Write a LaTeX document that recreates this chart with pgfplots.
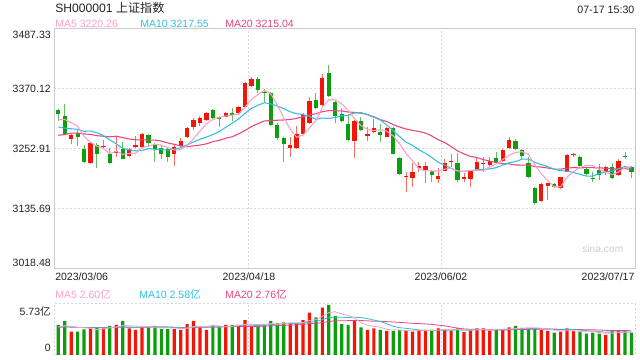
\documentclass[border=0pt]{standalone}
\usepackage{fontspec}
\setmainfont{Liberation Sans}
\newfontfamily\cjk{Noto Sans CJK SC}
\usepackage{pgfplots}
\usepackage{pgfplotstable}
\pgfplotsset{compat=1.18}
\definecolor{upR}{RGB}{242,22,8}
\definecolor{dnG}{RGB}{12,158,12}
\definecolor{upW}{RGB}{246,110,100}
\definecolor{dnW}{RGB}{100,190,100}
\definecolor{ma5}{RGB}{255,158,196}
\definecolor{ma10}{RGB}{48,190,228}
\definecolor{ma20}{RGB}{232,68,126}
\definecolor{gridc}{RGB}{214,214,214}
\definecolor{framec}{RGB}{204,204,204}
\definecolor{txt}{RGB}{34,34,34}
\definecolor{wm}{RGB}{205,205,205}

\pgfplotstableread{
i O H L C V
2 3271.8 3282.2 3262.7 3280.3 2.62
5 3226.2 3266.6 3224.2 3264.0 3.00
7 3256.8 3270.5 3254.2 3258.8 3.00
9 3244.4 3277.0 3237.9 3249.6 3.37
11 3239.9 3254.2 3236.6 3252.3 3.00
12 3257.5 3278.3 3254.2 3260.7 2.81
13 3257.5 3284.8 3256.2 3282.2 3.11
18 3242.5 3260.7 3219.7 3256.2 2.92
19 3258.8 3273.7 3256.2 3268.5 2.81
20 3275.7 3296.5 3273.7 3293.3 3.48
21 3296.5 3312.8 3290.0 3309.5 3.82
22 3303.0 3318.0 3298.0 3313.0 3.11
23 3309.5 3325.8 3307.6 3323.9 2.81
26 3316.1 3325.8 3314.8 3323.9 3.37
28 3323.9 3337.6 3319.3 3335.6 3.37
29 3335.6 3384.4 3334.3 3381.2 3.93
30 3376.6 3394.2 3374.7 3389.7 3.18
36 3254.2 3275.7 3237.9 3260.7 3.56
37 3254.2 3297.8 3252.9 3281.6 3.48
38 3281.6 3322.6 3280.3 3319.3 3.93
39 3304.3 3353.8 3301.7 3347.3 4.76
41 3338.9 3399.4 3336.9 3390.9 5.32
46 3269.2 3309.6 3234.7 3307.6 3.86
48 3279.0 3296.5 3268.5 3281.6 2.81
49 3286.8 3311.5 3283.5 3294.6 3.00
51 3277.0 3296.5 3275.7 3293.3 2.70
54 3198.2 3207.3 3168.2 3200.2 2.70
55 3196.9 3224.9 3179.3 3207.3 2.62
56 3217.7 3228.2 3207.3 3219.7 2.81
57 3211.9 3228.2 3185.8 3220.4 2.81
59 3194.3 3215.1 3185.8 3200.2 3.00
60 3210.6 3232.7 3209.0 3224.9 2.88
61 3228.8 3242.5 3218.4 3230.1 2.70
63 3196.3 3205.4 3187.8 3197.6 2.58
64 3193.7 3211.0 3179.3 3209.9 2.81
65 3211.9 3236.6 3210.0 3227.5 3.00
66 3224.3 3236.6 3208.6 3225.6 3.00
67 3221.7 3236.6 3220.0 3230.1 2.73
69 3230.1 3253.0 3228.0 3251.0 2.88
70 3254.2 3275.7 3253.0 3270.5 3.11
75 3152.0 3186.0 3150.0 3184.5 2.81
76 3181.3 3187.0 3153.3 3185.8 2.70
78 3177.4 3199.0 3175.0 3197.6 2.62
79 3208.6 3243.0 3207.0 3241.2 3.00
80 3241.8 3245.7 3238.0 3243.2 2.70
85 3210.6 3219.0 3202.1 3217.1 2.25
87 3202.1 3232.7 3200.0 3230.1 2.70
}\up

\pgfplotstableread{
i O H L C V
0 3329.1 3331.0 3307.6 3320.6 3.37
1 3317.4 3340.8 3280.3 3282.2 3.82
3 3284.8 3290.0 3258.8 3275.7 2.62
4 3252.9 3260.7 3226.2 3228.2 2.88
6 3260.7 3264.0 3215.1 3243.1 3.11
8 3242.5 3254.2 3223.6 3226.2 3.26
10 3252.9 3267.2 3232.7 3234.0 3.82
14 3279.6 3282.2 3257.5 3264.0 3.11
15 3260.7 3264.0 3228.2 3252.3 3.26
16 3254.2 3260.7 3232.7 3243.1 2.92
17 3252.3 3256.2 3228.2 3237.9 2.92
24 3329.1 3330.4 3311.5 3314.1 3.37
25 3314.8 3317.4 3296.5 3312.8 3.18
27 3322.6 3332.3 3308.2 3320.6 3.37
31 3389.7 3392.9 3363.0 3368.2 3.26
32 3364.9 3369.5 3343.4 3363.0 3.48
33 3361.7 3364.9 3297.8 3299.8 3.82
34 3299.8 3303.0 3270.5 3275.0 3.56
35 3275.0 3277.0 3228.2 3262.7 3.67
40 3348.6 3361.7 3330.4 3332.3 4.23
42 3400.7 3417.0 3355.1 3356.4 5.62
43 3345.4 3348.6 3303.0 3318.0 4.38
44 3320.6 3332.4 3306.3 3307.6 3.48
45 3301.1 3320.6 3269.2 3270.5 3.37
47 3307.6 3316.1 3288.1 3289.4 3.11
50 3286.8 3301.1 3267.2 3280.3 2.81
52 3293.3 3296.5 3242.5 3243.1 2.70
53 3236.0 3237.3 3202.1 3203.4 2.81
58 3210.6 3212.0 3189.1 3202.1 2.81
62 3224.9 3245.7 3187.8 3192.4 3.00
68 3234.7 3247.7 3224.0 3226.2 2.88
71 3269.2 3272.0 3250.0 3252.3 3.26
72 3251.0 3253.0 3232.7 3239.2 3.00
73 3226.2 3237.9 3196.0 3197.6 3.00
74 3176.1 3178.0 3143.5 3148.1 3.00
77 3183.9 3186.0 3177.0 3179.3 2.51
81 3236.6 3239.0 3217.0 3219.7 2.62
82 3213.2 3215.0 3202.0 3204.1 2.40
83 3196.3 3208.6 3189.1 3195.0 2.51
84 3211.9 3223.6 3192.4 3202.1 2.40
86 3218.4 3224.9 3194.0 3195.6 2.70
88 3239.9 3247.0 3232.7 3238.6 2.70
89 3217.1 3219.0 3195.6 3208.6 2.51
}\dn

\pgfplotstableread{
i m5 m10 m20 v5 v10 v20
0 3310.0 3296.0 3279.6 3.15 3.13 3.11
1 3310.5 3293.6 3281.3 3.30 3.20 3.15
2 3304.4 3292.5 3283.8 3.20 3.15 3.13
3 3297.4 3291.3 3284.0 3.11 3.10 3.10
4 3277.4 3287.4 3282.4 3.06 3.08 3.09
5 3266.1 3288.0 3281.4 2.99 3.07 3.09
6 3258.3 3284.4 3278.9 2.85 3.07 3.09
7 3254.0 3279.2 3277.8 2.92 3.06 3.08
8 3244.1 3270.8 3276.7 3.05 3.08 3.09
9 3248.3 3262.9 3277.9 3.15 3.11 3.10
10 3242.3 3254.2 3275.1 3.31 3.15 3.14
11 3244.2 3251.2 3272.4 3.29 3.07 3.13
12 3244.6 3249.3 3270.9 3.25 3.09 3.12
13 3255.8 3249.9 3270.6 3.22 3.14 3.12
14 3258.6 3253.5 3270.5 3.17 3.16 3.12
15 3262.3 3252.3 3270.2 3.06 3.19 3.13
16 3260.5 3252.3 3268.3 3.04 3.17 3.12
17 3255.9 3250.2 3264.7 3.06 3.16 3.11
18 3250.7 3253.2 3262.0 3.03 3.12 3.10
19 3251.6 3255.1 3259.0 2.97 3.07 3.09
20 3259.8 3261.1 3257.6 3.01 3.03 3.09
21 3273.1 3266.8 3259.0 3.19 3.12 3.09
22 3288.1 3272.0 3260.6 3.23 3.15 3.12
23 3301.6 3276.2 3263.0 3.21 3.12 3.13
24 3310.8 3281.2 3267.3 3.32 3.14 3.15
25 3314.7 3287.2 3269.8 3.26 3.13 3.16
26 3317.5 3295.3 3273.8 3.17 3.18 3.17
27 3319.1 3303.6 3276.9 3.22 3.22 3.19
28 3321.4 3311.5 3282.4 3.33 3.27 3.20
29 3334.8 3322.8 3289.0 3.44 3.38 3.22
30 3350.2 3332.4 3296.7 3.44 3.35 3.19
31 3359.1 3338.3 3302.5 3.42 3.30 3.21
32 3367.5 3343.3 3307.7 3.44 3.33 3.24
33 3360.4 3340.9 3308.5 3.53 3.43 3.27
34 3339.1 3337.0 3309.1 3.46 3.45 3.30
35 3313.7 3332.0 3309.6 3.56 3.50 3.32
36 3292.2 3325.7 3310.5 3.62 3.52 3.35
37 3276.0 3321.8 3312.7 3.62 3.53 3.38
38 3279.9 3320.1 3315.8 3.64 3.59 3.43
39 3294.3 3316.7 3319.8 3.88 3.67 3.53
40 3308.2 3311.0 3321.7 3.99 3.78 3.56
41 3334.3 3313.3 3325.8 4.34 3.98 3.64
42 3349.2 3312.6 3328.0 4.77 4.20 3.76
43 3349.0 3314.4 3327.7 4.86 4.25 3.84
44 3341.0 3317.7 3327.3 4.61 4.24 3.85
45 3328.7 3318.5 3325.2 4.43 4.21 3.86
46 3312.0 3323.2 3324.4 4.14 4.24 3.88
47 3298.6 3323.9 3322.8 3.64 4.21 3.87
48 3291.3 3320.2 3320.1 3.33 4.09 3.84
49 3288.7 3314.9 3315.8 3.23 3.92 3.79
50 3290.7 3309.7 3310.3 3.12 3.78 3.78
51 3287.8 3299.9 3306.6 2.89 3.51 3.75
52 3278.6 3288.6 3300.6 2.80 3.22 3.71
53 3262.9 3277.1 3295.8 2.80 3.07 3.66
54 3244.1 3266.4 3292.0 2.74 2.99 3.62
55 3229.5 3260.1 3289.3 2.71 2.91 3.56
56 3214.7 3251.3 3287.2 2.73 2.81 3.53
57 3210.2 3244.4 3284.2 2.75 2.78 3.49
58 3209.9 3236.4 3278.3 2.75 2.78 3.44
59 3209.9 3227.0 3270.9 2.81 2.78 3.35
60 3213.5 3221.5 3265.6 2.86 2.78 3.28
61 3215.5 3215.1 3257.5 2.84 2.78 3.15
62 3209.9 3210.1 3249.3 2.88 2.81 3.02
63 3209.0 3209.5 3243.3 2.83 2.79 2.93
64 3211.0 3210.5 3238.4 2.79 2.80 2.89
65 3211.5 3212.5 3236.3 2.82 2.84 2.88
66 3210.6 3213.1 3232.2 2.88 2.86 2.83
67 3218.1 3214.0 3229.2 2.82 2.85 2.81
68 3223.9 3216.5 3226.4 2.88 2.86 2.82
69 3232.1 3221.5 3224.3 2.90 2.85 2.81
70 3240.7 3226.1 3223.8 2.92 2.87 2.83
71 3246.0 3228.3 3221.7 2.97 2.93 2.85
72 3247.8 3233.0 3221.5 3.03 2.93 2.87
73 3242.1 3233.0 3221.2 3.05 2.97 2.88
74 3221.5 3226.8 3218.6 3.07 2.99 2.89
75 3204.3 3222.5 3217.5 3.01 2.97 2.90
76 3191.0 3218.5 3215.8 2.90 2.94 2.90
77 3179.1 3213.5 3213.7 2.80 2.92 2.88
78 3179.1 3210.6 3213.5 2.73 2.89 2.87
79 3197.7 3209.6 3215.6 2.73 2.90 2.87
80 3209.4 3206.9 3216.5 2.71 2.86 2.86
81 3216.2 3203.6 3216.0 2.69 2.80 2.86
82 3221.2 3200.1 3216.6 2.67 2.74 2.83
83 3220.6 3199.9 3216.4 2.65 2.69 2.83
84 3212.8 3205.3 3216.0 2.53 2.63 2.81
85 3207.6 3208.5 3215.5 2.44 2.57 2.77
86 3202.8 3209.5 3214.0 2.45 2.57 2.75
87 3208.0 3214.6 3214.0 2.51 2.59 2.75
88 3216.7 3218.7 3214.6 2.55 2.60 2.74
89 3218.0 3215.4 3212.5 2.57 2.55 2.73
}\ma

\newcommand{\fs}{\fontsize{7.9}{9}\selectfont}

\begin{document}
\begin{tikzpicture}
\path[use as bounding box] (0pt,0pt) rectangle (480pt,270pt);

% ---------- main candlestick panel ----------
\begin{axis}[
  at={(40.5pt,68.25pt)}, anchor=south west, scale only axis,
  width=435.75pt, height=180pt,
  xmin=-0.67, xmax=89.55, ymin=3018.48, ymax=3487.33,
  axis line style={draw=framec, line width=0.75pt},
  xtick={29.55,59.47}, xticklabels={}, xmajorgrids,
  ytick={3135.69,3252.91,3370.12}, yticklabels={3135.69,3252.91,3370.12}, ymajorgrids,
  grid style={draw=gridc, line width=0.75pt, dash pattern=on 1.5pt off 1.5pt},
  major tick length=0pt,
  yticklabel style={font=\fs, text=txt, inner sep=0pt, xshift=-2.25pt},
]
% wicks
\addplot[draw=none, mark=none, forget plot,
  error bars/.cd, y dir=both, y explicit, error mark=none,
  error bar style={draw=upW, line width=0.75pt}]
  table[x=i, y expr={(\thisrow{H}+\thisrow{L})/2}, y error expr={(\thisrow{H}-\thisrow{L})/2}] {\up};
\addplot[draw=none, mark=none, forget plot,
  error bars/.cd, y dir=both, y explicit, error mark=none,
  error bar style={draw=dnW, line width=0.75pt}]
  table[x=i, y expr={(\thisrow{H}+\thisrow{L})/2}, y error expr={(\thisrow{H}-\thisrow{L})/2}] {\dn};
% bodies
\addplot[draw=none, mark=none, forget plot,
  error bars/.cd, y dir=both, y explicit, error mark=none,
  error bar style={draw=upR, line width=3.2pt}]
  table[x=i, y expr={(\thisrow{O}+\thisrow{C})/2}, y error expr={max(abs(\thisrow{C}-\thisrow{O})/2,0.8)}] {\up};
\addplot[draw=none, mark=none, forget plot,
  error bars/.cd, y dir=both, y explicit, error mark=none,
  error bar style={draw=dnG, line width=3.2pt}]
  table[x=i, y expr={(\thisrow{O}+\thisrow{C})/2}, y error expr={max(abs(\thisrow{C}-\thisrow{O})/2,0.8)}] {\dn};
% moving averages
\addplot[ma20, line width=0.8pt, mark=none] table[x=i, y=m20] {\ma};
\addplot[ma10, line width=0.8pt, mark=none] table[x=i, y=m10] {\ma};
\addplot[ma5, line width=0.8pt, mark=none] table[x=i, y=m5] {\ma};
\end{axis}

% ---------- volume panel ----------
\begin{axis}[
  at={(40.5pt,3.75pt)}, anchor=south west, scale only axis,
  width=435.75pt, height=38.25pt,
  xmin=-0.67, xmax=89.55, ymin=0, ymax=5.73,
  axis line style={draw=gridc, line width=0.75pt, dash pattern=on 1.5pt off 1.5pt},
  xtick={29.55,59.47}, xticklabels={}, xmajorgrids,
  ytick=\empty,
  grid style={draw=gridc, line width=0.75pt, dash pattern=on 1.5pt off 1.5pt},
  major tick length=0pt,
]
\addplot[ybar, bar width=2.4pt, bar shift=0pt, fill=upR, draw=none] table[x=i, y=V] {\up};
\addplot[ybar, bar width=2.4pt, bar shift=0pt, fill=dnG, draw=none] table[x=i, y=V] {\dn};
\addplot[ma20, line width=0.6pt, mark=none] table[x=i, y=v20] {\ma};
\addplot[ma10, line width=0.6pt, mark=none] table[x=i, y=v10] {\ma};
\addplot[ma5, line width=0.6pt, mark=none] table[x=i, y=v5] {\ma};
\end{axis}

% ---------- texts ----------
\node[anchor=west, inner sep=0pt, text=txt, font=\fontsize{9.1}{11}\selectfont] at (41.25pt,264pt) {SH000001 {\cjk 上证指数}};
\node[anchor=east, inner sep=0pt, text=txt, font=\fontsize{8}{10}\selectfont] at (476pt,262.5pt) {07-17 15:30};

\node[anchor=west, inner sep=0pt, text=ma5, font=\fs] at (41.25pt,252pt) {MA5 3220.26};
\node[anchor=west, inner sep=0pt, text=ma10, font=\fs] at (105pt,252pt) {MA10 3217.55};
\node[anchor=west, inner sep=0pt, text=ma20, font=\fs] at (168.75pt,252pt) {MA20 3215.04};

\node[anchor=east, inner sep=0pt, text=txt, font=\fs] at (38.25pt,243.75pt) {3487.33};
\node[anchor=east, inner sep=0pt, text=txt, font=\fs] at (38.25pt,72.75pt) {3018.48};

\node[anchor=west, inner sep=0pt, text=wm, font=\fontsize{7.7}{9}\selectfont] at (436.5pt,83.25pt) {sina.com};

\node[anchor=west, inner sep=0pt, text=txt, font=\fs] at (41.25pt,62.25pt) {2023/03/06};
\node[anchor=center, inner sep=0pt, text=txt, font=\fs] at (186.75pt,62.25pt) {2023/04/18};
\node[anchor=center, inner sep=0pt, text=txt, font=\fs] at (330.75pt,62.25pt) {2023/06/02};
\node[anchor=east, inner sep=0pt, text=txt, font=\fs] at (476pt,62.25pt) {2023/07/17};

\node[anchor=west, inner sep=0pt, text=ma5, font=\fs] at (41.25pt,48.75pt) {MA5 2.60{\cjk 亿}};
\node[anchor=west, inner sep=0pt, text=ma10, font=\fs] at (104.25pt,48.75pt) {MA10 2.58{\cjk 亿}};
\node[anchor=west, inner sep=0pt, text=ma20, font=\fs] at (168.75pt,48.75pt) {MA20 2.76{\cjk 亿}};

\node[anchor=east, inner sep=0pt, text=txt, font=\fs] at (38.25pt,36pt) {5.73{\cjk 亿}};
\node[anchor=east, inner sep=0pt, text=txt, font=\fs] at (38.25pt,9pt) {0};
\end{tikzpicture}
\end{document}
